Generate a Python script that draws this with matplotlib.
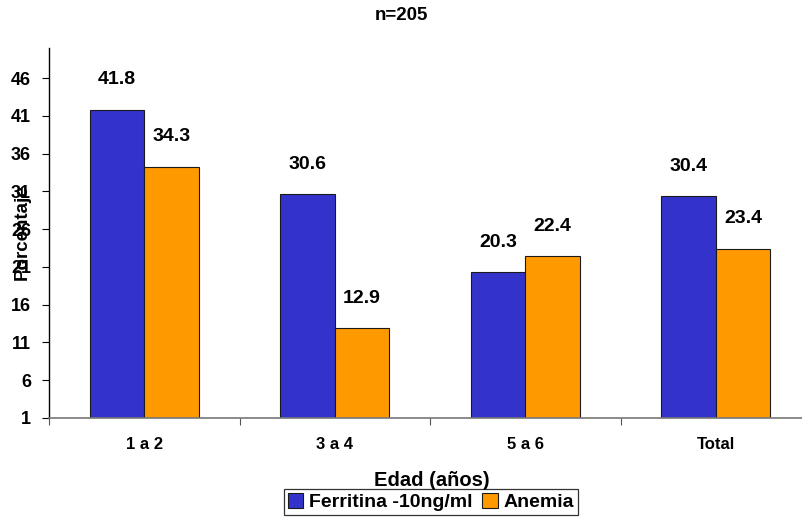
import numpy as np
import matplotlib.pyplot as plt
from matplotlib.patches import Patch

plt.rcParams['font.family'] = ['Liberation Sans', 'DejaVu Sans']
plt.rcParams['font.weight'] = 'bold'

# Porcentaje por grupo de edad
grupos = ['1 a 2', '3 a 4', '5 a 6', 'Total']
ferritina = [41.8, 30.6, 20.3, 30.4]
anemia = [34.3, 12.9, 22.4, 23.4]
yticks = [1, 6, 11, 16, 21, 26, 31, 36, 41, 46]

azul = '#3333CC'
naranja = '#FF9900'

W, H = 802, 518
fig = plt.figure(figsize=(W / 100, H / 100), dpi=100)
ax = fig.add_axes([49 / W, 100 / H, 762 / W, 370 / H])

x = np.arange(len(grupos))
w = 0.286
b1 = ax.bar(x - w / 2, np.array(ferritina) - 1, w, bottom=1, color=azul,
            edgecolor='#1a1a1a', linewidth=0.8)
b2 = ax.bar(x + w / 2, np.array(anemia) - 1, w, bottom=1, color=naranja,
            edgecolor='#1a1a1a', linewidth=0.8)

for xs, vals in ((x - w / 2, ferritina), (x + w / 2, anemia)):
    for xi, v in zip(xs, vals):
        ax.annotate(f'{v:.1f}', (xi, v), xytext=(0, 30), textcoords='offset pixels',
                    ha='center', va='center', fontsize=14, fontweight='bold')

ax.set_xlim(-0.5, len(grupos) - 0.5)
ax.set_ylim(1, 50)
ax.set_yticks(yticks)
ax.set_yticklabels([str(t) for t in yticks], fontsize=13, fontweight='bold')
ax.tick_params(axis='y', length=5, width=0.8, pad=8)

# categorias centradas, marcas entre grupos
ax.set_xticks(np.arange(len(grupos) + 1) - 0.5)
ax.set_xticklabels([])
ax.set_xticks(x, minor=True)
ax.set_xticklabels(grupos, minor=True, fontsize=12, fontweight='bold')
ax.tick_params(axis='x', which='major', length=5, width=0.8, color='#555555')
ax.tick_params(axis='x', which='minor', length=0, pad=14)

for s in ('top', 'right'):
    ax.spines[s].set_visible(False)
ax.spines['left'].set_linewidth(1.0)
ax.spines['bottom'].set_color('#777777')
ax.spines['bottom'].set_linewidth(1.2)

ax.set_ylabel('Porcentaje', fontsize=13.5, fontweight='bold')
ax.yaxis.set_label_coords(-0.024, 0.503)
ax.set_xlabel('Edad (años)', fontsize=14.5, fontweight='bold')
ax.xaxis.set_label_coords(0.502, -0.142)

fig.text(0.5, 1 - 16 / H, 'n=205', ha='center', va='center', fontsize=13.5, fontweight='bold')

handles = [Patch(facecolor=azul, edgecolor='#1a1a1a', linewidth=0.8),
           Patch(facecolor=naranja, edgecolor='#1a1a1a', linewidth=0.8)]
leg = fig.legend(handles, ['Ferritina -10ng/ml', 'Anemia'], loc='center',
                 bbox_to_anchor=(431 / W, 16 / H), ncol=2, fancybox=False,
                 edgecolor='black', fontsize=14, handlelength=0.8, handleheight=0.8,
                 handletextpad=0.3, columnspacing=0.5, borderpad=0.2,
                 borderaxespad=0)
leg.get_frame().set_linewidth(0.9)

fig.savefig('out.png', dpi=100)
